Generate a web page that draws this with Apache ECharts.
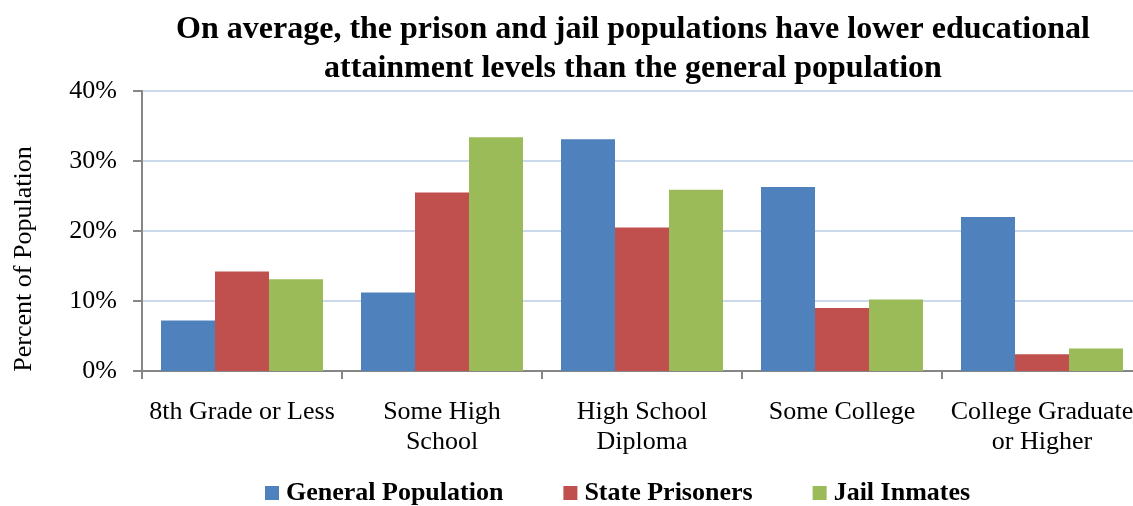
<!DOCTYPE html>
<html>
<head>
<meta charset="utf-8">
<script src="https://cdn.jsdelivr.net/npm/echarts@6/dist/echarts.min.js"></script>
<style>html,body{margin:0;padding:0;background:#fff}#c{width:1133px;height:506px}</style>
</head>
<body>
<div id="c"></div>
<script>
var categories = ['8th Grade or Less', 'Some High\nSchool', 'High School\nDiploma', 'Some College', 'College Graduate\nor Higher'];
var generalPopulation = [7.2, 11.2, 33.1, 26.3, 22.0];
var statePrisoners = [14.2, 25.5, 20.5, 9.0, 2.4];
var jailInmates = [13.1, 33.4, 25.9, 10.2, 3.2];
var yTicks = [0, 10, 20, 30, 40];

var FONT = '"Liberation Serif", "Times New Roman", serif';
var chart = echarts.init(document.getElementById('c'), null, {renderer: 'canvas'});
chart.setOption({
  animation: false,
  backgroundColor: '#fff',
  title: {
    text: 'On average, the prison and jail populations have lower educational\nattainment levels than the general population',
    left: 628, top: 5, textAlign: 'center',
    textStyle: {fontFamily: FONT, fontWeight: 'bold', fontSize: 32, lineHeight: 39, color: '#000'}
  },
  legend: {
    left: 260, top: 475,
    itemWidth: 14, itemHeight: 14, itemGap: 60,
    icon: 'rect',
    textStyle: {fontFamily: FONT, fontWeight: 'bold', fontSize: 26, color: '#000', padding: [0, 0, 0, 2]},
    data: ['General Population', 'State Prisoners', 'Jail Inmates']
  },
  grid: {left: 142, top: 91, width: 1000, height: 280, containLabel: false, outerBoundsMode: 'none'},
  xAxis: {
    type: 'category',
    data: categories,
    axisLine: {lineStyle: {color: '#868686', width: 2}},
    axisTick: {show: true, length: 8, lineStyle: {color: '#868686', width: 2}},
    axisLabel: {fontFamily: FONT, fontSize: 26, color: '#000', lineHeight: 30, margin: 26, interval: 0}
  },
  yAxis: {
    type: 'value',
    min: yTicks[0], max: yTicks[yTicks.length - 1], interval: 10,
    axisLine: {show: true, lineStyle: {color: '#868686', width: 2}},
    axisTick: {show: true, length: 9, lineStyle: {color: '#868686', width: 2}},
    splitLine: {lineStyle: {color: '#B9CDE5', width: 1.5}},
    axisLabel: {fontFamily: FONT, fontSize: 26, color: '#000', margin: 25, formatter: '{value}%'}
  },
  graphic: [{
    type: 'text', x: 24, y: 259, rotation: Math.PI / 2,
    style: {text: 'Percent of Population', fontFamily: FONT, fontSize: 26, fill: '#000', align: 'center', verticalAlign: 'middle'}
  }],
  series: [
    {name: 'General Population', type: 'bar', data: generalPopulation, barGap: '0%', barCategoryGap: '19%', itemStyle: {color: '#4F81BD'}},
    {name: 'State Prisoners', type: 'bar', data: statePrisoners, barGap: '0%', barCategoryGap: '19%', itemStyle: {color: '#C0504D'}},
    {name: 'Jail Inmates', type: 'bar', data: jailInmates, barGap: '0%', barCategoryGap: '19%', itemStyle: {color: '#9BBB59'}}
  ]
});
</script>
</body>
</html>
